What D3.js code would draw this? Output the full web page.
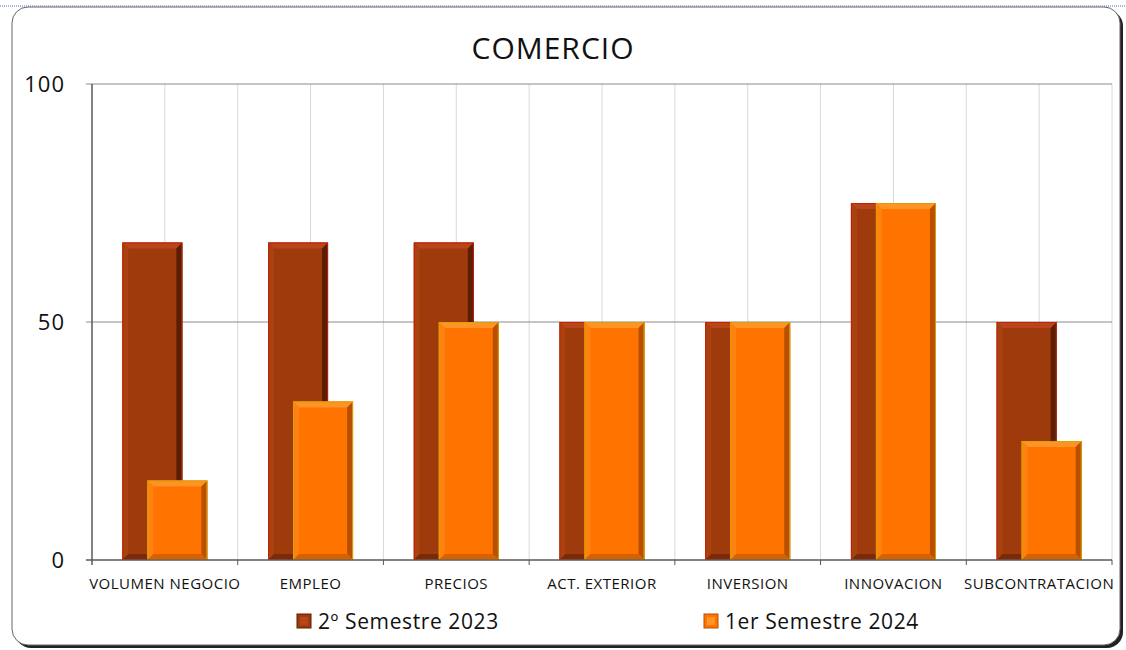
<!DOCTYPE html>
<html>
<head>
<meta charset="utf-8">
<script src="https://cdn.jsdelivr.net/npm/d3@7"></script>
<style>
  body { margin: 0; background: #fff; }
  svg { display: block; font-family: "Open Sans", "Noto Sans", sans-serif; }
</style>
</head>
<body>
<svg id="chart" width="1126" height="650"></svg>
<script>
// data
const categories = ["VOLUMEN NEGOCIO", "EMPLEO", "PRECIOS", "ACT. EXTERIOR", "INVERSION", "INNOVACION", "SUBCONTRATACION"];
const seriesNames = ["2º Semestre 2023", "1er Semestre 2024"];
const sem2023 = [66.7, 66.7, 66.7, 50, 50, 75, 50];
const sem2024 = [16.7, 33.3, 50, 50, 50, 75, 25];
const yTicks = [0, 50, 100];

const svg = d3.select("#chart");
const W = 1126, H = 650;
const plot = { left: 92, right: 1112, top: 84, bottom: 560 };

// blue dotted top line + rounded frame with shadow
svg.append("line").attr("x1", 0).attr("x2", W).attr("y1", 6).attr("y2", 6)
  .attr("stroke", "#4a6fb5").attr("stroke-width", 1).attr("stroke-dasharray", "1,1");
svg.append("rect").attr("x", 15).attr("y", 10).attr("width", 1108).attr("height", 638)
  .attr("rx", 16).attr("fill", "#222");
svg.append("rect").attr("x", 12).attr("y", 7).attr("width", 1108).attr("height", 638)
  .attr("rx", 16).attr("fill", "#fff").attr("stroke", "#666").attr("stroke-width", 1);

const x = d3.scaleBand().domain(categories).range([plot.left, plot.right]);
const y = d3.scaleLinear().domain([0, 100]).range([plot.bottom, plot.top]);

// vertical gridlines: band edges and band centres
const g = svg.append("g");
categories.forEach((c, i) => {
  const mid = x(c) + x.bandwidth() / 2;
  g.append("line").attr("x1", mid).attr("x2", mid).attr("y1", plot.top).attr("y2", plot.bottom)
    .attr("stroke", "#d9d9d9");
  if (i > 0) g.append("line").attr("x1", x(c)).attr("x2", x(c)).attr("y1", plot.top).attr("y2", plot.bottom)
    .attr("stroke", "#d9d9d9");
});
g.append("line").attr("x1", plot.right).attr("x2", plot.right).attr("y1", plot.top).attr("y2", plot.bottom)
  .attr("stroke", "#d9d9d9");

// horizontal gridlines
yTicks.filter(t => t > 0).forEach(t => {
  g.append("line").attr("x1", plot.left - 6).attr("x2", plot.right).attr("y1", y(t)).attr("y2", y(t))
    .attr("stroke", "#8c8c8c").attr("stroke-width", 1.2);
});

// bars with a bevel
const barW = 60, offset = 25;
const styles = [
  { base: "#9e3a0b", top: "#b8461a", left: "#a8420f", right: "#5a1e04", bottom: "#7a2a06", edge: "#c81e0a" },
  { base: "#ff7300", top: "#ff9426", left: "#ff8210", right: "#b85000", bottom: "#d95f00", edge: "#d9a200" }
];

function bevelBar(sel, x0, v, st) {
  const y0 = y(v), h = plot.bottom - y0, w = barW, b = 6;
  sel.append("rect").attr("x", x0).attr("y", y0).attr("width", w).attr("height", h).attr("fill", st.base);
  const poly = (pts, f) => sel.append("polygon").attr("points", pts.map(p => p.join(",")).join(" ")).attr("fill", f);
  poly([[x0, y0], [x0 + w, y0], [x0 + w - b, y0 + b], [x0 + b, y0 + b]], st.top);
  poly([[x0 + w, y0], [x0 + w, y0 + h], [x0 + w - b, y0 + h - b], [x0 + w - b, y0 + b]], st.right);
  poly([[x0, y0], [x0 + b, y0 + b], [x0 + b, y0 + h - b], [x0, y0 + h]], st.left);
  poly([[x0, y0 + h], [x0 + b, y0 + h - b], [x0 + w - b, y0 + h - b], [x0 + w, y0 + h]], st.bottom);
  sel.append("rect").attr("x", x0 + 0.5).attr("y", y0 + 0.5).attr("width", w - 1).attr("height", h - 1)
    .attr("fill", "none").attr("stroke", st.edge).attr("stroke-width", 1);
}

const bars = svg.append("g");
categories.forEach((c, i) => {
  const mid = x(c) + x.bandwidth() / 2;
  const gx = mid - (barW + offset) / 2;
  bevelBar(bars, gx, sem2023[i], styles[0]);
  bevelBar(bars, gx + offset, sem2024[i], styles[1]);
});

// axes
const axisCol = "#595959";
svg.append("line").attr("x1", plot.left).attr("x2", plot.left).attr("y1", plot.top).attr("y2", plot.bottom + 5)
  .attr("stroke", axisCol).attr("stroke-width", 1.5);
svg.append("line").attr("x1", plot.left - 6).attr("x2", plot.right).attr("y1", plot.bottom).attr("y2", plot.bottom)
  .attr("stroke", axisCol).attr("stroke-width", 1.5);
categories.forEach((c, i) => {
  if (i > 0) svg.append("line").attr("x1", x(c)).attr("x2", x(c)).attr("y1", plot.bottom).attr("y2", plot.bottom + 5)
    .attr("stroke", axisCol);
});
svg.append("line").attr("x1", plot.right).attr("x2", plot.right).attr("y1", plot.bottom).attr("y2", plot.bottom + 5)
  .attr("stroke", axisCol);

svg.append("g").selectAll("text").data(yTicks).join("text")
  .attr("x", 65).attr("y", d => y(d)).attr("dy", "0.36em").attr("text-anchor", "end")
  .attr("font-size", 22).attr("letter-spacing", 1).attr("fill", "#111").text(d => d);

svg.append("g").selectAll("text").data(categories).join("text")
  .attr("x", d => x(d) + x.bandwidth() / 2).attr("y", 589).attr("text-anchor", "middle")
  .attr("font-size", 15).attr("letter-spacing", 0.5).attr("fill", "#111").text(d => d);

// title
svg.append("text").attr("x", 553).attr("y", 59).attr("text-anchor", "middle")
  .attr("font-size", 30).attr("letter-spacing", 1).attr("fill", "#111").text("COMERCIO");

// legend
const legX = [297, 704];
seriesNames.forEach((n, i) => {
  const lg = svg.append("g");
  const st = styles[i];
  lg.append("rect").attr("x", legX[i]).attr("y", 614).attr("width", 14).attr("height", 14).attr("fill", st.base)
    .attr("stroke", st.right).attr("stroke-width", 1);
  lg.append("rect").attr("x", legX[i] + 3).attr("y", 617).attr("width", 8).attr("height", 8).attr("fill", st.top);
  lg.append("text").attr("x", legX[i] + 21).attr("y", 629).attr("font-size", 21).attr("letter-spacing", 0.6)
    .attr("fill", "#111").text(n);
});
</script>
</body>
</html>
